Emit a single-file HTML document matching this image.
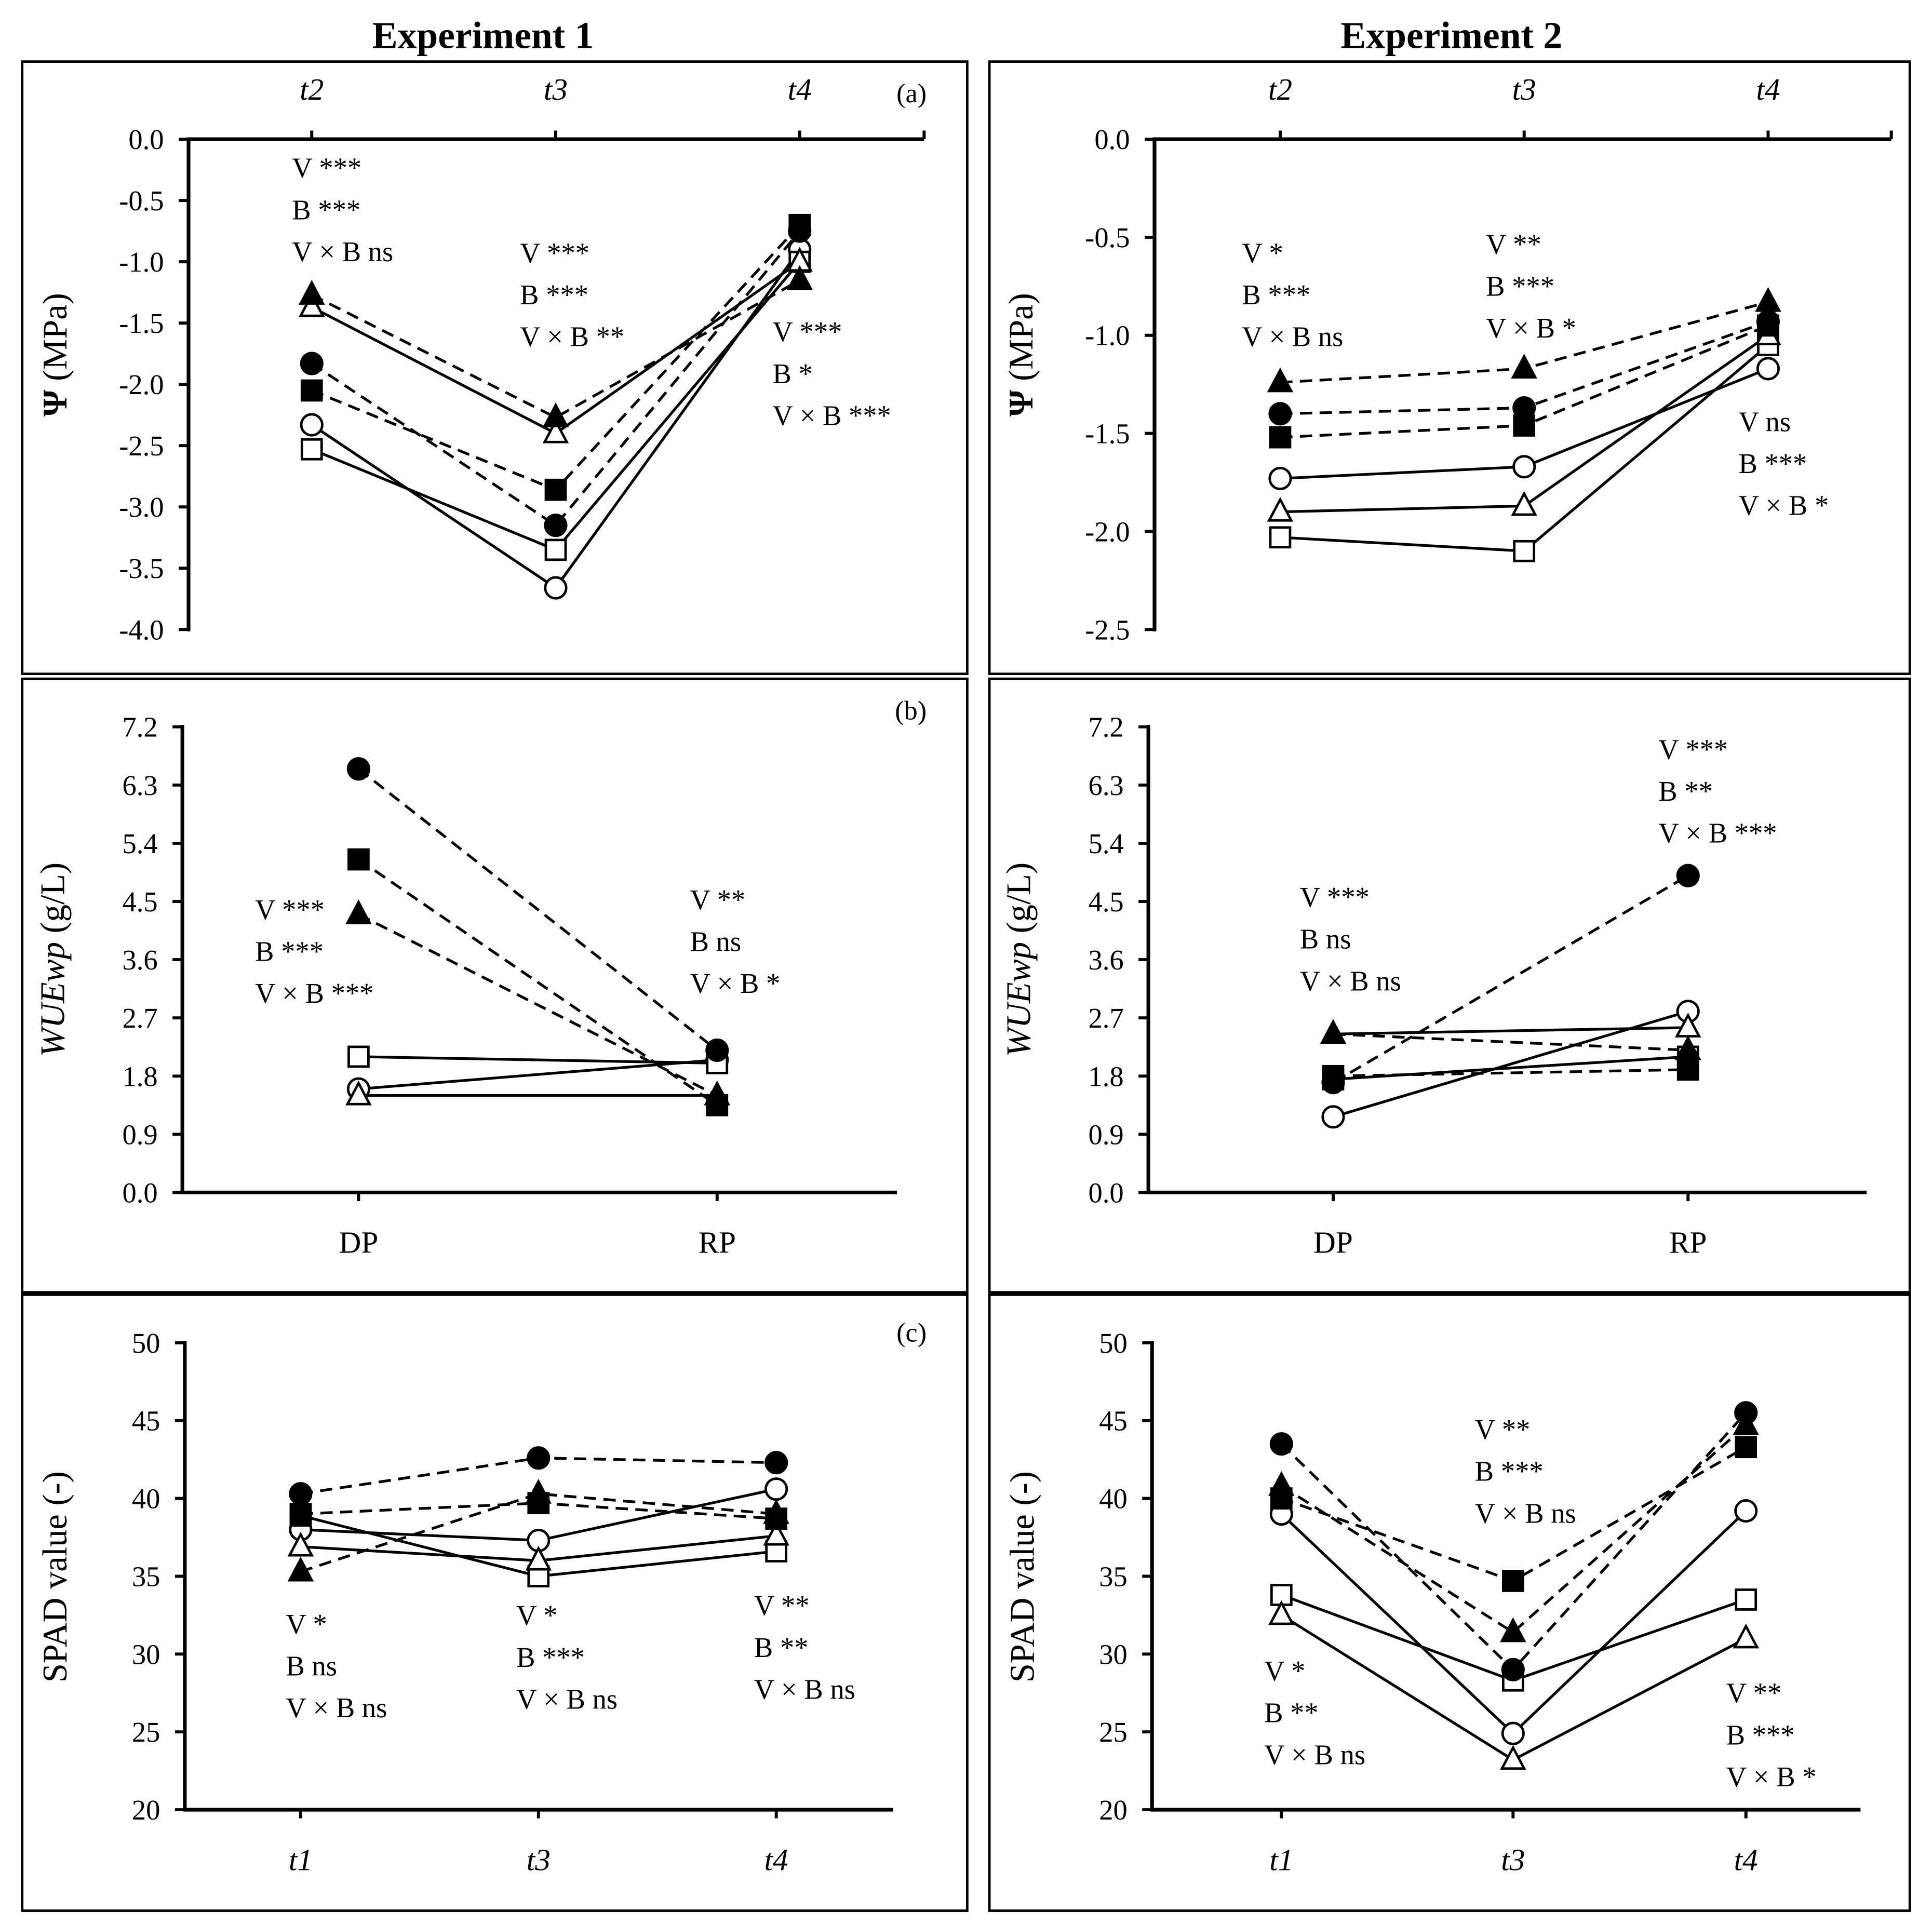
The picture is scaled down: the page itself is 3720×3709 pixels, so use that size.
<!DOCTYPE html>
<html><head><meta charset="utf-8">
<style>
html,body{margin:0;padding:0;background:#fff;}
svg{display:block;}
text{font-family:"Liberation Serif",serif;fill:#000;}
</style></head>
<body>
<svg id="fig" width="3720" height="3709" viewBox="0 0 1568 1563.4" xmlns="http://www.w3.org/2000/svg">
<text x="392" y="39" font-size="31" font-weight="bold" text-anchor="middle">Experiment 1</text>
<text x="1178" y="39" font-size="31" font-weight="bold" text-anchor="middle">Experiment 2</text>
<rect x="18" y="50" width="767" height="497" fill="none" stroke="#000" stroke-width="2"/>
<rect x="803" y="50" width="747" height="497" fill="none" stroke="#000" stroke-width="2"/>
<rect x="18" y="551" width="767" height="498" fill="none" stroke="#000" stroke-width="2"/>
<rect x="803" y="551" width="747" height="498" fill="none" stroke="#000" stroke-width="2"/>
<rect x="18" y="1051" width="767" height="500" fill="none" stroke="#000" stroke-width="2"/>
<rect x="803" y="1051" width="747" height="500" fill="none" stroke="#000" stroke-width="2"/>
</svg>
<script>
// series order: filledCircle, filledSquare, filledTriangle, openCircle, openSquare, openTriangle
const seriesNames = ["filled-circle","filled-square","filled-triangle","open-circle","open-square","open-triangle"];
const a1Cats = ["t2","t3","t4"];
const a1FC = [-1.83,-3.15,-0.75];
const a1FS = [-2.05,-2.86,-0.70];
const a1FT = [-1.27,-2.27,-1.15];
const a1OC = [-2.33,-3.66,-0.90];
const a1OS = [-2.53,-3.35,-1.00];
const a1OT = [-1.37,-2.40,-1.00];
const a1Ticks = ["0.0","-0.5","-1.0","-1.5","-2.0","-2.5","-3.0","-3.5","-4.0"];
const a2Cats = ["t2","t3","t4"];
const a2FC = [-1.40,-1.37,-0.93];
const a2FS = [-1.52,-1.46,-0.95];
const a2FT = [-1.24,-1.17,-0.83];
const a2OC = [-1.73,-1.67,-1.17];
const a2OS = [-2.03,-2.10,-1.05];
const a2OT = [-1.90,-1.87,-1.00];
const a2Ticks = ["0.0","-0.5","-1.0","-1.5","-2.0","-2.5"];
const b1Cats = ["DP","RP"];
const b1FC = [6.55,2.20];
const b1FS = [5.15,1.35];
const b1FT = [4.30,1.50];
const b1OC = [1.60,2.05];
const b1OS = [2.10,2.00];
const b1OT = [1.50,1.50];
const bTicks = ["0.0","0.9","1.8","2.7","3.6","4.5","5.4","6.3","7.2"];
const b2Cats = ["DP","RP"];
const b2FC = [1.70,4.90];
const b2FS = [1.80,1.90];
const b2FT = [2.45,2.20];
const b2OC = [1.17,2.80];
const b2OS = [1.75,2.10];
const b2OT = [2.45,2.55];
const c1Cats = ["t1","t3","t4"];
const c1FC = [40.3,42.6,42.3];
const c1FS = [39.0,39.7,38.7];
const c1FT = [35.3,40.3,39.0];
const c1OC = [38.0,37.3,40.6];
const c1OS = [38.9,35.0,36.6];
const c1OT = [36.9,36.0,37.6];
const c2Cats = ["t1","t3","t4"];
const c2FC = [43.5,29.0,45.5];
const c2FS = [40.0,34.7,43.3];
const c2FT = [40.8,31.4,44.7];
const c2OC = [39.0,24.9,39.2];
const c2OS = [33.8,28.3,33.5];
const c2OT = [32.5,23.2,31.0];
const cTicks = ["20","25","30","35","40","45","50"];

const NS="http://www.w3.org/2000/svg";
const svg=document.getElementById('fig');
function el(tag,attrs,parent){const e=document.createElementNS(NS,tag);for(const k in attrs)e.setAttribute(k,attrs[k]);(parent||svg).appendChild(e);return e;}
function txt(x,y,s,size,anchor,italic,parent){const t=el('text',{x:x,y:y,'font-size':size,'text-anchor':anchor||'start'},parent);if(italic)t.setAttribute('font-style','italic');t.textContent=s;return t;}

function panel(p){
  const g=el('g',{});
  
  
  const ys=v=>p.y0+(v-p.vmin)/(p.vmax-p.vmin)*(p.y1-p.y0);
  const xs=i=>p.xs[i];
  const ya=el('line',{x1:p.ax,y1:Math.min(p.y0,p.y1)-1.5,x2:p.ax,y2:Math.max(p.y0,p.y1)+1.5,stroke:'#000','stroke-width':3},g);
  
  
  p.ticks.forEach((lab,i)=>{
    const v=parseFloat(lab);const y=ys(v);
    el('line',{x1:p.ax-8,y1:y,x2:p.ax,y2:y,stroke:'#000','stroke-width':2.5},g);
    const t=txt(p.ax-20,y+8,lab,23,'end',false,g);
    
    
  });
  const xy=p.top?p.y0:Math.max(p.y0,p.y1);
  const xa=el('line',{x1:p.ax,y1:xy,x2:p.axEnd,y2:xy,stroke:'#000','stroke-width':3},g);
  
  
  if(p.top){el('line',{x1:p.axEnd,y1:xy,x2:p.axEnd,y2:xy-7,stroke:'#000','stroke-width':2.5},g);}
  p.cats.forEach((c,i)=>{
    const x=xs(i);
    if(p.top) el('line',{x1:x,y1:xy,x2:x,y2:xy-7,stroke:'#000','stroke-width':2.5},g);
    else el('line',{x1:x,y1:xy,x2:x,y2:xy+7,stroke:'#000','stroke-width':2.5},g);
    const t=txt(x,p.top?xy-32:xy+49,c,25,'middle',p.italicX,g);
    
    
  });
  const yt=el('text',{x:0,y:0,'font-size':28,'text-anchor':'middle',transform:`translate(${p.ytx},${p.yty}) rotate(-90)`},g);
  yt.innerHTML=p.ytitle;
  
  
  if(p.label){const l=txt(p.labelX,p.labelY,p.label,22,'end',false,g);
    
    }
  const dash=[true,true,true,false,false,false];
  p.series.forEach((arr,s)=>{
    const pts=arr.map((v,i)=>xs(i)+','+ys(v)).join(' ');
    const pl=el('polyline',{points:pts,fill:'none',stroke:'#000','stroke-width':2.2,'stroke-dasharray':dash[s]?'10,6':'none'},g);
    
    
  });
  const order=[3,4,5,0,1,2];
  order.forEach(s=>{
    const arr=p.series[s];const filled=s<3;const fill=filled?'#000':'#fff';
    arr.forEach((v,i)=>{
      const x=xs(i),y=ys(v);let m;
      const shape=s%3;
      if(shape===0)m=el('circle',{cx:x,cy:y,r:8.5,fill:fill,stroke:'#000','stroke-width':2},g);
      else if(shape===1)m=el('rect',{x:x-8,y:y-8,width:16,height:16,fill:fill,stroke:'#000','stroke-width':2},g);
      else m=el('polygon',{points:`${x},${y-10} ${x+9},${y+7} ${x-9},${y+7}`,fill:fill,stroke:'#000','stroke-width':2},g);
      
      
    });
  });
  p.ann.forEach(a=>{
    a.lines.forEach((ln,k)=>{
      const t=txt(a.x,a.y+k*34,ln,23,'start',false,g);
      
      
    });
  });
}
const AN=(x,y,l)=>({x:x,y:y,lines:l});
panel({name:'panel-a-exp1',ax:153,axEnd:750,y0:113,y1:511,vmin:0,vmax:-4,xs:[253,451,649],cats:a1Cats,top:true,italicX:true,ticks:a1Ticks,
  series:[a1FC,a1FS,a1FT,a1OC,a1OS,a1OT],ytitle:'<tspan font-weight="bold">Ψ</tspan> (MPa)',ytx:54,yty:288,label:'(a)',labelX:752,labelY:83,
  ann:[AN(237,144,['V ***','B ***','V × B ns']),AN(422,213,['V ***','B ***','V × B **']),AN(627,277,['V ***','B *','V × B ***'])]});
panel({name:'panel-a-exp2',ax:937,axEnd:1535,y0:113,y1:511,vmin:0,vmax:-2.5,xs:[1039,1237,1435],cats:a2Cats,top:true,italicX:true,ticks:a2Ticks,
  series:[a2FC,a2FS,a2FT,a2OC,a2OS,a2OT],ytitle:'<tspan font-weight="bold">Ψ</tspan> (MPa)',ytx:838,yty:288,
  ann:[AN(1008,213,['V *','B ***','V × B ns']),AN(1206,206,['V **','B ***','V × B *']),AN(1411,350,['V ns','B ***','V × B *'])]});
panel({name:'panel-b-exp1',ax:148,axEnd:728,y0:968,y1:590,vmin:0,vmax:7.2,xs:[291,582],cats:b1Cats,top:false,italicX:false,ticks:bTicks,
  series:[b1FC,b1FS,b1FT,b1OC,b1OS,b1OT],ytitle:'<tspan font-style="italic">WUEwp</tspan> (g/L)',ytx:52,yty:779,label:'(b)',labelX:752,labelY:584,
  ann:[AN(207,746,['V ***','B ***','V × B ***']),AN(560,738,['V **','B ns','V × B *'])]});
panel({name:'panel-b-exp2',ax:932,axEnd:1515,y0:968,y1:590,vmin:0,vmax:7.2,xs:[1082,1370],cats:b2Cats,top:false,italicX:false,ticks:bTicks,
  series:[b2FC,b2FS,b2FT,b2OC,b2OS,b2OT],ytitle:'<tspan font-style="italic">WUEwp</tspan> (g/L)',ytx:836,yty:779,
  ann:[AN(1055,736,['V ***','B ns','V × B ns']),AN(1346,616,['V ***','B **','V × B ***'])]});
panel({name:'panel-c-exp1',ax:150,axEnd:725,y0:1469,y1:1090,vmin:20,vmax:50,xs:[244,437,630],cats:c1Cats,top:false,italicX:true,ticks:cTicks,
  series:[c1FC,c1FS,c1FT,c1OC,c1OS,c1OT],ytitle:'SPAD value (-)',ytx:54,yty:1280,label:'(c)',labelX:752,labelY:1089,
  ann:[AN(232,1326,['V *','B ns','V × B ns']),AN(419,1319,['V *','B ***','V × B ns']),AN(612,1311,['V **','B **','V × B ns'])]});
panel({name:'panel-c-exp2',ax:935,axEnd:1510,y0:1469,y1:1090,vmin:20,vmax:50,xs:[1040,1228,1417],cats:c2Cats,top:false,italicX:true,ticks:cTicks,
  series:[c2FC,c2FS,c2FT,c2OC,c2OS,c2OT],ytitle:'SPAD value (-)',ytx:839,yty:1280,
  ann:[AN(1026,1364,['V *','B **','V × B ns']),AN(1197,1168,['V **','B ***','V × B ns']),AN(1401,1382,['V **','B ***','V × B *'])]});
</script>
</body></html>
